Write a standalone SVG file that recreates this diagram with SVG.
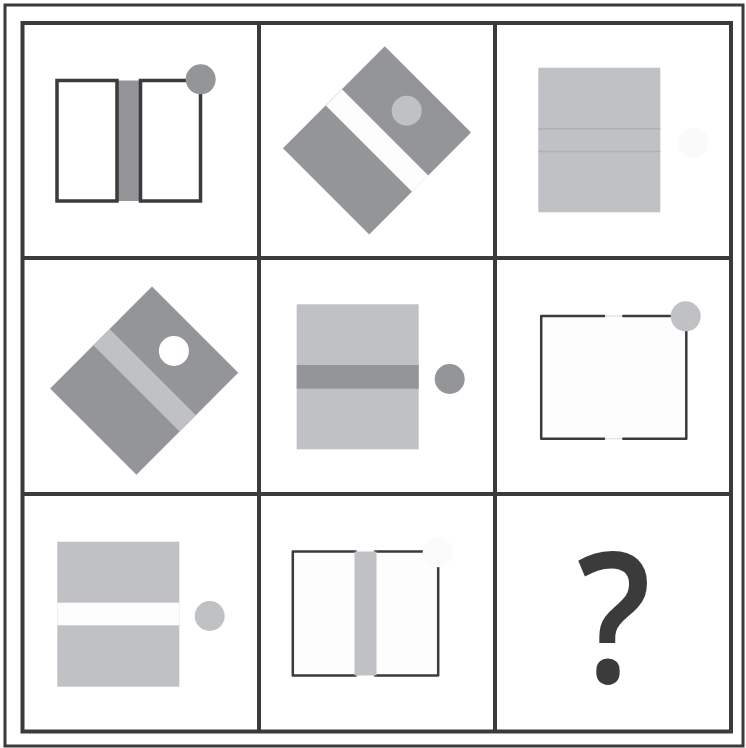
<svg xmlns="http://www.w3.org/2000/svg" width="746" height="748" viewBox="0 0 746 748">
<style>
.frame{fill:none;stroke:#3b3b3b}
.ol{fill:#ffffff;stroke:#3b3b3b;stroke-width:3.5}
.ol2{fill:#fdfdfd;stroke:#3b3b3b;stroke-width:2.5;stroke-linecap:round;stroke-linejoin:round}
.dk{fill:#939598}
.lt{fill:#c0c1c4}
.wh{fill:#fdfdfd}
</style>
<rect width="746" height="748" fill="#ffffff"/>
<g id="frame">
<rect class="frame" x="5" y="5" width="738" height="741" stroke-width="3"/>
<rect class="frame" x="22.5" y="23" width="708.5" height="708.5" stroke-width="4"/>
<line class="frame" x1="259" y1="23" x2="259" y2="731.5" stroke-width="4"/>
<line class="frame" x1="495" y1="23" x2="495" y2="731.5" stroke-width="4"/>
<line class="frame" x1="22.5" y1="258" x2="731" y2="258" stroke-width="4"/>
<line class="frame" x1="22.5" y1="494" x2="731" y2="494" stroke-width="4"/>
</g>
<g id="cell1">
<rect class="dk" x="117" y="80.5" width="23.5" height="120.5"/>
<rect class="ol" x="57" y="80.5" width="60" height="120.5"/>
<rect class="ol" x="140.5" y="80.5" width="60" height="120.5"/>
<circle class="dk" cx="200.7" cy="79.3" r="15"/>
</g>
<g id="cell2" transform="translate(377 140.4) rotate(-45)">
<rect class="dk" x="-72" y="-61" width="144" height="122"/>
<rect class="wh" x="-11.5" y="-61" width="23" height="122"/>
<circle class="lt" cx="42" cy="0" r="15"/>
</g>
<g id="cell3">
<rect class="lt" x="538.3" y="67.7" width="122" height="144.6"/>
<line x1="538.3" y1="128.8" x2="660.3" y2="128.8" stroke="#b0b1b4" stroke-width="1.5"/>
<line x1="538.3" y1="151.5" x2="660.3" y2="151.5" stroke="#b0b1b4" stroke-width="1.5"/>
<circle cx="693.3" cy="142.7" r="15" fill="#fafafa"/>
</g>
<g id="cell4" transform="translate(144.2 380.6) rotate(-45)">
<rect class="dk" x="-72" y="-61" width="144" height="122"/>
<rect class="lt" x="-11" y="-61" width="23" height="122"/>
<circle cx="42" cy="0" r="15" fill="#ffffff"/>
</g>
<g id="cell5">
<rect class="lt" x="296.7" y="304.3" width="122" height="145"/>
<rect class="dk" x="296.7" y="365" width="122" height="23.7"/>
<circle class="dk" cx="449.7" cy="379" r="15"/>
</g>
<g id="cell6">
<rect x="601.7" y="316" width="23.3" height="122.8" fill="#fcfcfc" stroke="#dadada" stroke-width="1"/>
<path class="ol2" d="M604 316 H541.2 V438.8 H604"/>
<path class="ol2" d="M623.3 316 H686.3 V438.8 H623.3"/>
<circle class="lt" cx="685.7" cy="316.3" r="15"/>
</g>
<g id="cell7">
<rect class="lt" x="57.3" y="541.7" width="122" height="145"/>
<rect class="wh" x="57.3" y="602.7" width="122" height="22.6"/>
<circle class="lt" cx="209.7" cy="616" r="15"/>
</g>
<g id="cell8">
<path class="ol2" d="M355.7 551.5 H292.8 V675.5 H355.7"/>
<path class="ol2" d="M375 551.5 H438.2 V675.5 H375"/>
<rect class="lt" x="354.5" y="551.5" width="22" height="124"/>
<circle cx="437.7" cy="552.3" r="15" fill="#fbfbfb"/>
</g>
<g id="cell9">
<text transform="translate(614 683) scale(0.9 1)" x="0" y="0" font-family="'Open Sans', 'Noto Sans', sans-serif" font-size="182" font-weight="600" fill="#3b3b3b" text-anchor="middle">?</text>
</g>
</svg>
